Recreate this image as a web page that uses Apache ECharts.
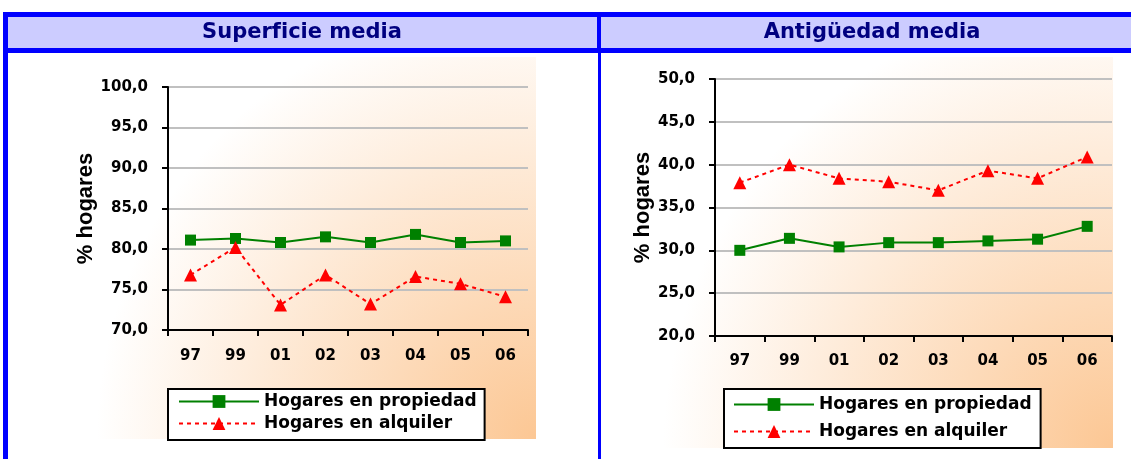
<!DOCTYPE html>
<html lang="es" style="height: 100%">
<head>
    <meta charset="utf-8">
    <title>Superficie y antigüedad media</title>
    <script src="https://cdn.jsdelivr.net/npm/echarts@6/dist/echarts.min.js"></script>
</head>
<body style="height: 100%; margin: 0; background: #fff">
    <div id="main" style="width: 1131px; height: 459px"></div>
    <script type="text/javascript">

        // datos
        var categorias   = ['97', '99', '01', '02', '03', '04', '05', '06'];
        var supPropiedad = [81.1, 81.3, 80.8, 81.5, 80.8, 81.8, 80.8, 81.0];
        var supAlquiler  = [76.8, 80.2, 73.1, 76.8, 73.2, 76.6, 75.7, 74.1];
        var antPropiedad = [30.0, 31.4, 30.4, 30.9, 30.9, 31.1, 31.3, 32.8];
        var antAlquiler  = [37.9, 40.0, 38.4, 38.0, 37.0, 39.3, 38.4, 40.9];
        var titulos      = ['Superficie media', 'Antigüedad media'];
        var nombres      = ['Hogares en propiedad', 'Hogares en alquiler'];
        var nombreEje    = '% hogares';
        var ejeSup       = [70, 100, 5];   // min, max, intervalo
        var ejeAnt       = [20, 50, 5];

        var fuente = "'DejaVu Sans', sans-serif";
        var azul = '#0000ff';

        var myChart = echarts.init(document.getElementById('main'));

        function ejeX(idx, margen) {
            return {
                type: 'category', gridIndex: idx, data: categorias, boundaryGap: true,
                axisLine: { lineStyle: { color: '#000', width: 2 } },
                axisTick: { show: true, length: 6, lineStyle: { color: '#000', width: 2 } },
                axisLabel: { margin: margen, color: '#000', fontFamily: fuente, fontWeight: 'bold', fontSize: 15 },
                splitLine: { show: false }
            };
        }

        function ejeY(idx, rango, gap) {
            return {
                type: 'value', gridIndex: idx, min: rango[0], max: rango[1], interval: rango[2],
                name: nombreEje, nameLocation: 'middle', nameRotate: 90, nameGap: gap,
                nameTextStyle: { fontFamily: "'Liberation Sans', Arial, sans-serif", fontWeight: 'bold', fontSize: 22, color: '#000' },
                axisLine: { show: true, lineStyle: { color: '#000', width: 2 } },
                axisTick: { show: true, length: 6, lineStyle: { color: '#000', width: 2 } },
                axisLabel: {
                    margin: 20, color: '#000', fontFamily: fuente, fontWeight: 'bold', fontSize: 15,
                    formatter: function (v) { return v.toFixed(1).replace('.', ','); }
                },
                splitLine: { lineStyle: { color: '#c0c0c0', width: 2 } }
            };
        }

        // la serie de alquiler se dibuja encima, como en el original
        function serie(nombre, datos, idx, alquiler) {
            return {
                name: nombre, type: 'line', xAxisIndex: idx, yAxisIndex: idx, data: datos,
                symbol: alquiler ? 'triangle' : 'rect',
                symbolSize: alquiler ? 13 : 11,
                itemStyle: { color: alquiler ? '#ff0000' : '#008000' },
                lineStyle: alquiler ? { color: '#ff0000', width: 2, type: [4, 4] }
                                    : { color: '#008000', width: 2 },
                z: alquiler ? 4 : 3
            };
        }

        function leyenda(x, gap, pad) {
            return {
                left: x, top: 389, orient: 'vertical', data: nombres, selectedMode: false,
                itemWidth: 80, itemHeight: 16, itemGap: gap, padding: pad,
                backgroundColor: '#fff', borderColor: '#000', borderWidth: 2, borderRadius: 0,
                textStyle: { fontFamily: fuente, fontWeight: 'bold', fontSize: 17, color: '#000', lineHeight: 16 }
            };
        }

        // fondo degradado del área del gráfico
        function fondo(x, y, w, h) {
            return {
                type: 'rect', z: -10, silent: true,
                shape: { x: x, y: y, width: w, height: h },
                style: {
                    fill: new echarts.graphic.RadialGradient(1, 1, 1.15, [
                        { offset: 0, color: '#fcc794' },
                        { offset: 1, color: '#ffffff' }
                    ])
                }
            };
        }

        var option = {
            animation: false,
            backgroundColor: '#fff',
            graphic: [
                fondo(78, 57, 458, 382),
                fondo(612, 57, 501, 391),
                // marco y cabecera
                { type: 'rect', shape: { x: 3, y: 12, width: 1140, height: 41 }, style: { fill: azul } },
                { type: 'rect', shape: { x: 8, y: 17, width: 589, height: 31 }, style: { fill: '#ccccff' } },
                { type: 'rect', shape: { x: 601, y: 17, width: 540, height: 31 }, style: { fill: '#ccccff' } },
                { type: 'rect', shape: { x: 3, y: 12, width: 5, height: 447 }, style: { fill: azul } },
                { type: 'rect', shape: { x: 598, y: 53, width: 3, height: 406 }, style: { fill: azul } },
                {
                    type: 'text', x: 302, y: 33,
                    style: { text: titulos[0], fill: '#000080', font: 'bold 21px ' + fuente, align: 'center', verticalAlign: 'middle' }
                },
                {
                    type: 'text', x: 872, y: 33,
                    style: { text: titulos[1], fill: '#000080', font: 'bold 21px ' + fuente, align: 'center', verticalAlign: 'middle' }
                }
            ],
            grid: [
                { left: 168, top: 87, width: 360, height: 243 },
                { left: 715, top: 79, width: 397, height: 257 }
            ],
            xAxis: [ejeX(0, 19), ejeX(1, 18)],
            yAxis: [ejeY(0, ejeSup, 68), ejeY(1, ejeAnt, 58)],
            legend: [
                leyenda(168, 5, [4, 8, 8, 10]),
                leyenda(724, 10, [7, 9, 8, 9])
            ],
            series: [
                serie(nombres[0], supPropiedad, 0, false),
                serie(nombres[1], supAlquiler, 0, true),
                serie(nombres[0], antPropiedad, 1, false),
                serie(nombres[1], antAlquiler, 1, true)
            ]
        };

        myChart.setOption(option);
    </script>
</body>
</html>
